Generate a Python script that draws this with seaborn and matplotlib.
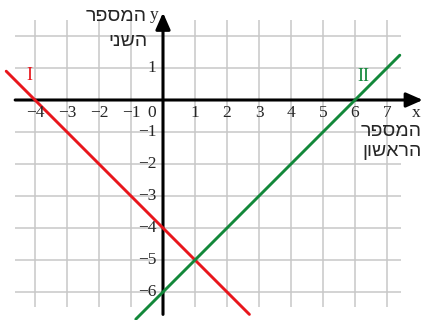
import matplotlib
matplotlib.use("Agg")
import matplotlib.pyplot as plt
import seaborn as sns
import pandas as pd

sns.set_style("white")

# ---- data ----
grid_x = list(range(-4, 8))
grid_y = list(range(-6, 3))
xtick_vals = [-4, -3, -2, -1, 1, 2, 3, 4, 5, 6, 7]
ytick_vals = [1, -1, -2, -3, -4, -5, -6]

line1_x = [-4.9, 2.7]      # I : y = -x - 4
line1_y = [0.9, -6.7]
line2_x = [-0.85, 7.4]     # II : y = x - 6
line2_y = [-6.85, 1.4]

ylabel_lines = ["המספר", "השני"]
xlabel_lines = ["המספר", "הראשון"]

RED = "#e8161c"
GREEN = "#12883a"

def vis(s):
    # matplotlib draws left-to-right; reverse Hebrew for visual order
    return s[::-1]

fig = plt.figure(figsize=(4.23, 3.2), dpi=100)
ax = fig.add_axes([0, 0, 1, 1])

# grid
ax.vlines(grid_x, -6.47, 2.5, color="#c8c8c8", lw=1.1, zorder=1)
ax.hlines(grid_y, -4.62, 7.44, color="#c8c8c8", lw=1.1, zorder=1)

# axes with arrows
arrow = dict(arrowstyle="-|>,head_length=0.5,head_width=0.22", lw=2.2,
             color="black", mutation_scale=20, shrinkA=0, shrinkB=0)
ax.annotate("", xy=(8.12, 0), xytext=(-4.62, 0), arrowprops=arrow, zorder=3)
ax.annotate("", xy=(0, 2.73), xytext=(0, -6.7), arrowprops=arrow, zorder=3)

# lines
df1 = pd.DataFrame({"x": line1_x, "y": line1_y})
df2 = pd.DataFrame({"x": line2_x, "y": line2_y})
sns.lineplot(data=df1, x="x", y="y", ax=ax, color=RED, lw=2.1, zorder=4)
sns.lineplot(data=df2, x="x", y="y", ax=ax, color=GREEN, lw=2.1, zorder=4)
ax.axis("off")
ax.set_xlim(-163 / 32, (423 - 163) / 32)
ax.set_ylim(-220 / 32, 100 / 32)

serif = ["Liberation Serif", "DejaVu Serif"]
sans = ["Liberation Sans", "DejaVu Sans"]
fs = 12.5
hfs = 14

for v in xtick_vals:
    lab = f"{v}".replace("-", "\u2212")
    ax.text(v, -0.41, lab, ha="center", va="center", fontsize=fs, family=serif, zorder=5)
ax.text(-0.34, -0.41, "0", ha="center", va="center", fontsize=fs, family=serif, zorder=5)
for v in ytick_vals:
    lab = f"{v}".replace("-", "\u2212")
    ax.text(-0.2, v, lab, ha="right", va="center", fontsize=fs, family=serif, zorder=5)

ax.text(-0.27, 2.66, "y", ha="center", va="center", fontsize=fs, family=serif)
ax.text(7.9, -0.42, "x", ha="center", va="center", fontsize=fs, family=serif)

ax.text(-0.5, 2.6, vis(ylabel_lines[0]), ha="right", va="center", fontsize=hfs, family=sans)
ax.text(-0.5, 1.84, vis(ylabel_lines[1]), ha="right", va="center", fontsize=hfs, family=sans)
ax.text(8.07, -0.97, vis(xlabel_lines[0]), ha="right", va="center", fontsize=hfs, family=sans)
ax.text(8.07, -1.6, vis(xlabel_lines[1]), ha="right", va="center", fontsize=hfs, family=sans)

ax.text(-4.19, 0.75, "I", ha="center", va="center", fontsize=13, family=serif, color=RED)
ax.text(6.25, 0.72, "II", ha="center", va="center", fontsize=13, family=serif, color=GREEN)

fig.savefig("out.png", dpi=100)
